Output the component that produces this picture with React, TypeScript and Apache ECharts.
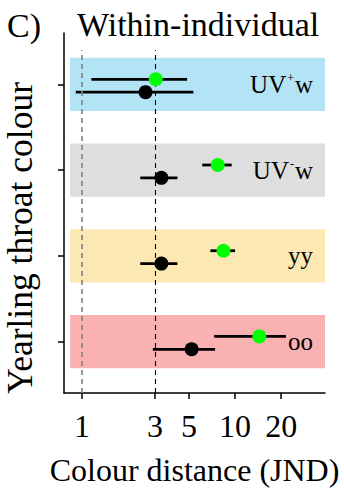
import React, { useEffect, useRef } from "react";
import * as echarts from "echarts";

// Rows from bottom (1) to top (4)
const categories = ["oo", "yy", "UV-w", "UV+w"];
const rowPos = [1, 2, 3, 4];
const bandColors = ["#f9b1b1", "#fbe8b3", "#dedede", "#b3e4f6"];

const greenMean = [14.4, 8.4, 7.7, 3.03];
const greenLo = [7.3, 6.9, 6.1, 1.15];
const greenHi = [21.5, 10.0, 9.5, 4.86];

const blackMean = [5.2, 3.3, 3.3, 2.6];
const blackLo = [2.9, 2.4, 2.4, 0.91];
const blackHi = [7.4, 4.2, 4.2, 5.34];

const xTicks = [1, 3, 5, 10, 20];
const refLines = [1, 3];

const X_MIN = 0.762;
const X_MAX = 38.7;
const BAND_LEFT = 0.835;
const Y_MIN = 0.4;
const Y_MAX = 4.6;
const GREEN_OFF = 0.06;
const BLACK_OFF = -0.09;
const BAND_HALF = 0.31;

const FONT = "Liberation Serif";
const lg = (v: number) => Math.log10(v);

const labelText = (c: string) => {
  if (c === "UV+w") return "{b|UV}{s|+}{b|w}";
  if (c === "UV-w") return "{b|UV}{s|-}{b|w}";
  return "{b|" + c + "}";
};

export default function App() {
  const ref = useRef<HTMLDivElement>(null);
  useEffect(() => {
    if (!ref.current) return;
    const chart = echarts.init(ref.current, null, { renderer: "svg" });

    const bars: any[] = [];
    rowPos.forEach((p, i) => {
      bars.push([lg(blackLo[i]), lg(blackHi[i]), p + BLACK_OFF]);
      bars.push([lg(greenLo[i]), lg(greenHi[i]), p + GREEN_OFF]);
    });

    const option: any = {
      animation: false,
      title: [
        {
          text: "C)",
          left: 2,
          top: 3,
          textStyle: { fontFamily: FONT, fontSize: 34, fontWeight: "normal", color: "#000" },
        },
        {
          text: "Within-individual",
          left: 72,
          top: 2,
          textStyle: { fontFamily: FONT, fontSize: 34, fontWeight: "normal", color: "#000" },
        },
      ],
      grid: { left: 64, right: 19, top: 33, bottom: 95, containLabel: false, outerBoundsMode: "none" },
      xAxis: {
        type: "value",
        min: lg(X_MIN),
        max: lg(X_MAX),
        axisLine: { show: true, onZero: false, lineStyle: { color: "#000", width: 1.5 } },
        axisTick: {
          show: true,
          customValues: xTicks.map(lg),
          length: 6,
          lineStyle: { color: "#000", width: 1.5 },
        },
        axisLabel: {
          customValues: xTicks.map(lg),
          formatter: (v: number) => String(Math.round(Math.pow(10, v))),
          fontFamily: FONT,
          fontSize: 32,
          color: "#000",
          margin: 17,
        },
        splitLine: { show: false },
        name: "Colour distance (JND)",
        nameLocation: "middle",
        nameGap: 62,
        nameTextStyle: { fontFamily: FONT, fontSize: 32, color: "#000", lineHeight: 30 },
      },
      yAxis: {
        type: "value",
        min: Y_MIN,
        max: Y_MAX,
        axisLine: { show: true, onZero: false, lineStyle: { color: "#000", width: 1.5 } },
        axisTick: {
          show: true,
          customValues: rowPos,
          length: 6,
          lineStyle: { color: "#000", width: 1.5 },
        },
        axisLabel: { show: false },
        splitLine: { show: false },
        name: "Yearling throat colour",
        nameLocation: "middle",
        nameRotate: 90,
        nameGap: 26,
        nameTextStyle: {
          fontFamily: FONT,
          fontSize: 35.5,
          color: "#000",
          padding: [0, 50, 0, 0],
        },
      },
      series: [
        {
          type: "scatter",
          z: 1,
          data: [],
          silent: true,
          markArea: {
            silent: true,
            data: rowPos.map((p, i) => [
              {
                xAxis: lg(BAND_LEFT),
                yAxis: p - BAND_HALF,
                itemStyle: { color: bandColors[i], opacity: 1 },
                label: {
                  show: true,
                  position: "insideRight",
                  distance: 12,
                  formatter: labelText(categories[i]),
                  rich: {
                    b: { fontFamily: FONT, fontSize: 25, color: "#000" },
                    s: {
                      fontFamily: FONT,
                      fontSize: 12,
                      color: "#000",
                      verticalAlign: "top",
                      padding: [0, 1, 10, 1],
                    },
                  },
                },
              },
              { xAxis: lg(X_MAX), yAxis: p + BAND_HALF },
            ]),
          },
        },
        {
          type: "scatter",
          z: 2,
          data: [],
          silent: true,
          markLine: {
            silent: true,
            symbol: ["none", "none"],
            label: { show: false },
            data: refLines.map((v, i) => [
              {
                coord: [lg(v), Y_MIN],
                lineStyle: {
                  color: i === 0 ? "#808080" : "#000",
                  width: i === 0 ? 1.6 : 1.1,
                  type: [5, 4],
                },
              },
              { coord: [lg(v), 4.4] },
            ]),
          },
        },
        {
          type: "custom",
          z: 3,
          silent: true,
          data: bars,
          renderItem: (params: any, api: any) => {
            const a = api.coord([api.value(0), api.value(2)]);
            const b = api.coord([api.value(1), api.value(2)]);
            return {
              type: "line",
              shape: { x1: a[0], y1: a[1], x2: b[0], y2: b[1] },
              style: { stroke: "#000", lineWidth: 2.8 },
            };
          },
        },
        {
          type: "scatter",
          z: 4,
          symbolSize: 14,
          itemStyle: { color: "#000", opacity: 1 },
          data: rowPos.map((p, i) => [lg(blackMean[i]), p + BLACK_OFF]),
        },
        {
          type: "scatter",
          z: 5,
          symbolSize: 14,
          itemStyle: { color: "#00ff00", opacity: 1 },
          data: rowPos.map((p, i) => [lg(greenMean[i]), p + GREEN_OFF]),
        },
      ],
    };
    chart.setOption(option);
    return () => chart.dispose();
  }, []);
  return <div ref={ref} style={{ width: 344, height: 488, position: "absolute", left: 0, top: 0 }} />;
}
